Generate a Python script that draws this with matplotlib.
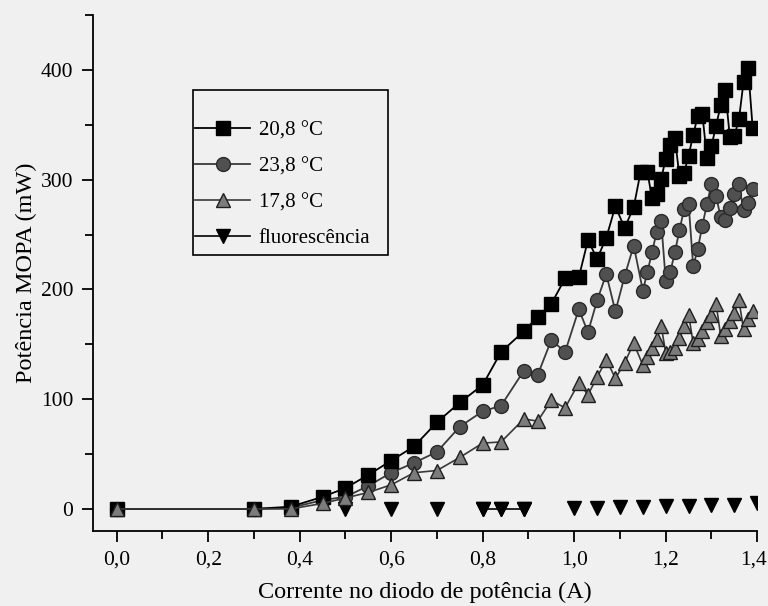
import matplotlib
matplotlib.use("Agg")
import matplotlib.pyplot as plt
from matplotlib.patches import Rectangle
from matplotlib.ticker import MultipleLocator
from matplotlib.transforms import ScaledTranslation

plt.rcParams['font.family'] = ['Liberation Serif', 'DejaVu Serif']

# potencia do MOPA (mW) em funcao da corrente no diodo (A)
x_208 = [0.0, 0.30, 0.38, 0.45, 0.50, 0.55, 0.60, 0.65, 0.70, 0.75, 0.80, 0.84, 0.89, 0.92, 0.95, 0.98,
         1.01, 1.03, 1.05, 1.07, 1.09, 1.11, 1.13, 1.145, 1.16, 1.17, 1.18, 1.19, 1.20, 1.21, 1.22, 1.23,
         1.24, 1.25, 1.26, 1.27, 1.28, 1.29, 1.30, 1.31, 1.32, 1.33, 1.34, 1.35, 1.36, 1.37, 1.38, 1.39]
y_208 = [0, 0, 2, 11, 19, 31, 44, 57, 79, 97, 113, 143, 162, 175, 187, 210,
         211, 245, 228, 247, 276, 256, 275, 307, 307, 283, 287, 301, 319, 332, 338, 303,
         306, 322, 341, 358, 360, 320, 331, 349, 368, 382, 339, 340, 355, 389, 402, 347]

x_238 = [0.0, 0.30, 0.38, 0.45, 0.50, 0.55, 0.60, 0.65, 0.70, 0.75, 0.80, 0.84, 0.89, 0.92, 0.95, 0.98,
         1.01, 1.03, 1.05, 1.07, 1.09, 1.11, 1.13, 1.15, 1.16, 1.17, 1.18, 1.19, 1.20, 1.21, 1.22, 1.23,
         1.24, 1.25, 1.26, 1.27, 1.28, 1.29, 1.30, 1.31, 1.32, 1.33, 1.34, 1.35, 1.36, 1.37, 1.38, 1.39]
y_238 = [0, 0, 1, 8, 11, 21, 33, 42, 52, 75, 89, 94, 126, 122, 154, 143,
         182, 161, 190, 214, 180, 212, 240, 199, 216, 234, 252, 262, 208, 216, 234, 254,
         273, 278, 221, 237, 258, 278, 296, 285, 266, 263, 274, 287, 296, 272, 279, 292]

x_178 = [0.0, 0.30, 0.38, 0.45, 0.50, 0.55, 0.60, 0.65, 0.70, 0.75, 0.80, 0.84, 0.89, 0.92, 0.95, 0.98,
         1.01, 1.03, 1.05, 1.07, 1.09, 1.11, 1.13, 1.15, 1.16, 1.17, 1.18, 1.19, 1.20, 1.21, 1.22, 1.23,
         1.24, 1.25, 1.26, 1.27, 1.28, 1.29, 1.30, 1.31, 1.32, 1.33, 1.34, 1.35, 1.36, 1.37, 1.38, 1.39]
y_178 = [0, 0, 0, 5, 10, 15, 22, 33, 35, 47, 60, 61, 82, 80, 99, 92,
         115, 104, 120, 136, 119, 133, 151, 131, 138, 147, 155, 167, 142, 143, 147, 156,
         167, 177, 151, 155, 162, 170, 177, 187, 158, 164, 171, 179, 190, 164, 173, 180]

x_fluor = [0.38, 0.50, 0.60, 0.70, 0.80, 0.84, 0.89, 1.00, 1.05, 1.10, 1.15, 1.20, 1.25, 1.30, 1.35, 1.40]
y_fluor = [0, 0, 0, 0, 0, 0, 0, 1, 1, 2, 2, 3, 3, 4, 4, 5]

fundo = "#f0f0f0"
fig = plt.figure(figsize=(7.68, 6.06), dpi=100, facecolor=fundo)
ax = fig.add_axes([0.121, 0.124, 0.865, 0.851], facecolor=fundo)

ax.plot(x_208, y_208, "-s", color="black", lw=1.3, ms=9.5, mfc="black", mec="black",
        label="20,8 °C", zorder=5)
ax.plot(x_238, y_238, "-o", color="#3a3a3a", lw=1.3, ms=10, mfc="#505050", mec="#2a2a2a",
        label="23,8 °C", zorder=4)
ax.plot(x_178, y_178, "-^", color="#3a3a3a", lw=1.2, ms=10, mfc="#7c7c7c", mec="#1e1e1e",
        label="17,8 °C", zorder=6)
# fluorescencia: so os pontos entre 0,8 e 0,9 A estao ligados
ax.plot(x_fluor[4:7], y_fluor[4:7], "-v", color="black", lw=1.2, ms=10, label="fluorescência", zorder=3)
ax.plot(x_fluor, y_fluor, "v", color="black", ms=10, zorder=3)

ax.set_xlim(-0.052, 1.40)
ax.set_ylim(-20, 450)
ax.spines["top"].set_visible(False)
ax.spines["right"].set_visible(False)
for s in ("left", "bottom"):
    ax.spines[s].set_linewidth(1.3)

ax.xaxis.set_minor_locator(MultipleLocator(0.1))
ax.yaxis.set_minor_locator(MultipleLocator(50))
ax.set_xticks([0.0, 0.2, 0.4, 0.6, 0.8, 1.0, 1.2, 1.4])
ax.set_xticklabels(["0,0", "0,2", "0,4", "0,6", "0,8", "1,0", "1,2", "1,4"])
ax.set_yticks([0, 100, 200, 300, 400])
ax.tick_params(which="major", direction="out", length=8, width=1.3, labelsize=15.5, pad=6)
ax.tick_params(which="minor", direction="out", length=6, width=1.3)

# o ultimo rotulo fica rente a borda; puxa um pouco para dentro
ultimo = ax.get_xticklabels()[-1]
ultimo.set_transform(ultimo.get_transform() + ScaledTranslation(-4 / 100, 0, fig.dpi_scale_trans))

ax.set_xlabel("Corrente no diodo de potência (A)", fontsize=17.5, labelpad=9)
ax.set_ylabel("Potência MOPA (mW)", fontsize=17.5, labelpad=3)

# legenda sem moldura, a caixa vai desenhada a parte
leg = ax.legend(loc="upper left", bbox_to_anchor=(0.254, 0.80), bbox_transform=fig.transFigure,
                borderaxespad=0, borderpad=0, fontsize=15, frameon=False,
                handlelength=2.65, handletextpad=0.4, labelspacing=0.78)
fig.patches.append(Rectangle((0.2513, 0.579), 0.254, 0.272, transform=fig.transFigure,
                             fill=False, edgecolor="black", linewidth=1.2))

fig.savefig("out.png", dpi=100, facecolor=fundo)
